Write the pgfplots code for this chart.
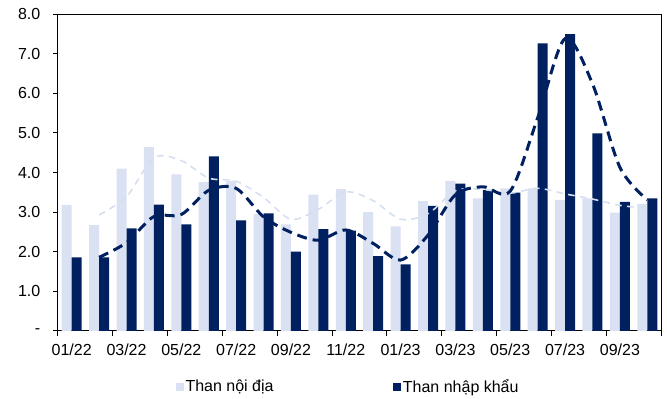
\documentclass[border=0pt]{standalone}
\usepackage{fontspec}
\setmainfont{Liberation Sans}
\usepackage{pgfplots}
\pgfplotsset{compat=1.18}
\usepackage{pgfplotstable}

\definecolor{domestic}{HTML}{D9E1F2}
\definecolor{domline}{HTML}{D6DFF0}
\definecolor{imported}{HTML}{002060}

% Monthly values: domestic coal, imported coal, and their 2-month moving averages
\pgfplotstableread{
idx dom  imp  domma impma
0   3.18 1.86 nan   nan
1   2.67 1.86 2.93  1.86
2   4.10 2.59 3.39  2.23
3   4.64 3.19 4.37  2.89
4   3.95 2.69 4.30  2.94
5   3.76 4.41 3.86  3.55
6   3.79 2.79 3.78  3.60
7   2.95 2.97 3.37  2.88
8   2.69 2.00 2.82  2.49
9   3.44 2.57 3.07  2.29
10  3.58 2.53 3.51  2.55
11  3.00 1.89 3.29  2.21
12  2.64 1.68 2.82  1.79
13  3.28 3.16 2.96  2.42
14  3.79 3.72 3.54  3.44
15  3.35 3.56 3.57  3.64
16  3.60 3.49 3.48  3.53
17  3.60 7.26 3.60  5.38
18  3.31 7.49 3.46  7.38
19  3.35 4.99 3.33  6.24
20  2.99 3.26 3.17  4.13
21  3.21 3.35 3.10  3.31
}\coaldata

\begin{document}
\begin{tikzpicture}
\begin{axis}[
  name=ax, at={(0pt,0pt)}, anchor=south west,
  scale only axis, width=452.25pt, height=237.75pt,
  xmin=-0.5, xmax=21.5, ymin=0, ymax=8,
  ytick={0,1,...,8},
  yticklabels={-\hspace{5pt},1.0,2.0,3.0,4.0,5.0,6.0,7.0,8.0},
  xtick={-0.5,1.5,...,21.5}, xticklabels={},
  extra x ticks={0,2,...,20},
  extra x tick labels={01/22,03/22,05/22,07/22,09/22,11/22,01/23,03/23,05/23,07/23,09/23},
  extra x tick style={major tick length=0pt},
  tick align=outside, tick pos=left, major tick length=3.75pt,
  axis line style={black, line width=0.75pt},
  tick style={black, line width=0.75pt},
  tick label style={font=\fontsize{12}{14.4}\selectfont},
  yticklabel style={xshift=-6pt},
  xticklabel style={yshift=-6pt},
  legend style={at={(axis description cs:0.481,-0.1767)}, anchor=center,
    draw=none, fill=none, legend columns=2,
    font=\fontsize{12}{14.4}\selectfont,
    /tikz/every even column/.append style={column sep=88pt},
    nodes={inner sep=1.5pt}},
]
\addplot[ybar, fill=domestic, draw=none, bar width=0.365, bar shift=-0.1825,
  legend image code/.code={\fill[domestic] (0pt,-3pt) rectangle (6pt,3pt);}]
  table[x=idx, y=dom]{\coaldata};
\addlegendentry{Than nội địa}
\addplot[ybar, fill=imported, draw=none, bar width=0.365, bar shift=0.1825,
  legend image code/.code={\fill[imported] (0pt,-3pt) rectangle (6pt,3pt);}]
  table[x=idx, y=imp]{\coaldata};
\addlegendentry{Than nhập khẩu}
\addplot[forget plot, domline, line width=1.2pt, dash pattern=on 5pt off 4pt, smooth]
  table[x=idx, y=domma]{\coaldata};
\addplot[forget plot, imported, line width=2.25pt, dash pattern=on 7.5pt off 4.5pt, smooth, tension=0.5]
  table[x=idx, y=impma]{\coaldata};
\end{axis}
\pgfresetboundingbox
\path[use as bounding box] ([shift={(-43.5pt,-51pt)}]ax.south west) rectangle ([shift={(4.5pt,10.5pt)}]ax.north east);
\end{tikzpicture}
\end{document}
